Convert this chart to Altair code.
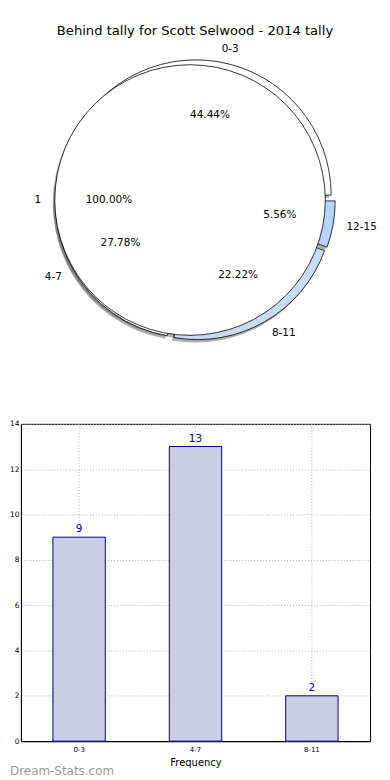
import altair as alt
import pandas as pd

# ---------------- data ----------------
TITLE = "Behind tally for Scott Selwood - 2014 tally"

slice_labels = ["0-3", "4-7", "8-11", "12-15"]
slice_counts = [8, 5, 4, 1]
slice_colors = ["#ffffff", "#ffffff", "#c8dcf8", "#b5d4fc"]

whole_labels = ["1"]
whole_counts = [1]
whole_colors = ["#ffffff"]

bar_categories = ["0-3", "4-7", "8-11"]
bar_values = [9, 13, 2]
y_ticks = [0, 2, 4, 6, 8, 10, 12, 14]
x_title = "Frequency"
watermark = "Dream-Stats.com"

# ---------------- layout constants ----------------
FONT = "DejaVu Sans"
CX, CY, R = 175, 191, 136
EXPLODE = 5
SH_DX, SH_DY = -2, 3

slices_df = pd.DataFrame({"label": slice_labels, "value": slice_counts,
                          "color": slice_colors, "order": list(range(len(slice_labels)))})
whole_df = pd.DataFrame({"label": whole_labels, "value": whole_counts,
                         "color": whole_colors, "order": list(range(len(whole_labels)))})


def pie_geometry(df, explode):
    return (
        alt.Chart(df)
        .transform_joinaggregate(total="sum(value)")
        .transform_window(cum="sum(value)", sort=[alt.SortField("order")], frame=[None, 0])
        .transform_calculate(a1="2*PI*(datum.cum - datum.value)/datum.total")
        .transform_calculate(a2="2*PI*datum.cum/datum.total")
        .transform_calculate(mid="(datum.a1 + datum.a2)/2")
        .transform_calculate(t1="2.5*PI - datum.a2")
        .transform_calculate(t2="2.5*PI - datum.a1")
        .transform_calculate(pct="format(100*datum.value/datum.total, '.2f') + '%'")
        .transform_calculate(cx=f"{CX} + {explode}*cos(datum.mid)")
        .transform_calculate(cy=f"{CY} - {explode}*sin(datum.mid)")
        .transform_calculate(lx=f"{CX} + ({1.1 * R} + {explode})*cos(datum.mid)")
        .transform_calculate(ly=f"{CY} - ({1.1 * R} + {explode})*sin(datum.mid)")
        .transform_calculate(px=f"{CX} + ({0.6 * R} + {explode})*cos(datum.mid)")
        .transform_calculate(py=f"{CY} - ({0.6 * R} + {explode})*sin(datum.mid)")
    )


def arc_layer(geo, shadow=False):
    if shadow:
        mark = geo.mark_arc(radius=R, fill="#4d4d4d", fillOpacity=0.45,
                            xOffset=SH_DX, yOffset=SH_DY)
        enc = {}
    else:
        mark = geo.mark_arc(radius=R, stroke="black", strokeWidth=0.8)
        enc = {"fill": alt.Fill("color:N", scale=None)}
    return mark.encode(
        x=alt.X("cx:Q", scale=None, axis=None),
        y=alt.Y("cy:Q", scale=None, axis=None),
        theta=alt.Theta("t1:Q", scale=None, stack=None),
        theta2=alt.Theta2("t2:Q"),
        **enc,
    )


def outer_labels(geo):
    right = geo.transform_filter("cos(datum.mid) >= 0").mark_text(
        align="left", baseline="middle", font=FONT, fontSize=10.5, color="black"
    ).encode(x=alt.X("lx:Q", scale=None, axis=None), y=alt.Y("ly:Q", scale=None, axis=None),
             text="label:N")
    left = geo.transform_filter("cos(datum.mid) < 0").mark_text(
        align="right", baseline="middle", font=FONT, fontSize=10.5, color="black"
    ).encode(x=alt.X("lx:Q", scale=None, axis=None), y=alt.Y("ly:Q", scale=None, axis=None),
             text="label:N")
    return [right, left]


def pct_labels(geo):
    return geo.mark_text(align="center", baseline="middle", font=FONT,
                         fontSize=10.5, color="black").encode(
        x=alt.X("px:Q", scale=None, axis=None), y=alt.Y("py:Q", scale=None, axis=None),
        text="pct:N")


slices_geo = pie_geometry(slices_df, EXPLODE)
whole_geo = pie_geometry(whole_df, EXPLODE)

title_mark = alt.Chart(pd.DataFrame({"t": [TITLE]})).mark_text(
    align="center", baseline="middle", font=FONT, fontSize=13.2, color="black"
).encode(x=alt.value(175), y=alt.value(21), text="t:N")

pie = alt.layer(
    arc_layer(whole_geo, shadow=True),
    arc_layer(slices_geo, shadow=True),
    arc_layer(slices_geo),
    arc_layer(whole_geo),
    *outer_labels(slices_geo),
    *outer_labels(whole_geo),
    pct_labels(slices_geo),
    pct_labels(whole_geo),
    title_mark,
).properties(width=363, height=380, view=alt.ViewBackground(strokeOpacity=0))

# ---------------- bar chart ----------------
bar_df = pd.DataFrame({"category": bar_categories, "value": bar_values})

x_enc = alt.X(
    "category:N", sort=bar_categories, title=x_title,
    scale=alt.Scale(paddingInner=0, paddingOuter=0),
    axis=alt.Axis(labelAngle=0, bandPosition=0.5, ticks=False, grid=True,
                  gridColor="#b0b0b0", gridDash=[1, 2], labelFont=FONT, labelFontSize=7,
                  labelColor="black", titleFont=FONT, titleFontSize=10,
                  titleFontWeight="normal", titleColor="black", domainColor="black",
                  labelPadding=4, titlePadding=5),
)
y_enc = alt.Y(
    "value:Q", scale=alt.Scale(domain=[0, 14], nice=False),
    axis=alt.Axis(values=y_ticks, ticks=False, grid=True, gridColor="#b0b0b0",
                  gridDash=[1, 2], labelFont=FONT, labelFontSize=7.5, labelColor="black",
                  domainColor="black", labelPadding=2, title=None),
)

bars = alt.Chart(bar_df).mark_bar(
    width=alt.RelativeBandSize(0.45), fill="#ccccE4", stroke="#000080", strokeWidth=1
).encode(x=x_enc, y=y_enc)

bar_text = alt.Chart(bar_df).mark_text(
    dy=-8, font=FONT, fontSize=10.5, color="#000080"
).encode(x=alt.X("category:N", sort=bar_categories), y="value:Q", text="value:Q")

wm = alt.Chart(pd.DataFrame({"t": [watermark]})).mark_text(
    align="left", baseline="middle", font=FONT, fontSize=12, color="#999999"
).encode(x=alt.value(-11), y=alt.value(349), text="t:N")

bar = alt.layer(bars, bar_text, wm).properties(
    width=351, height=319,
    view=alt.ViewBackground(stroke="black", strokeWidth=1),
)

chart = alt.vconcat(pie, bar, spacing=31).properties(padding=0)

chart.save("out.html", embed_options={"renderer": "svg", "actions": False})
